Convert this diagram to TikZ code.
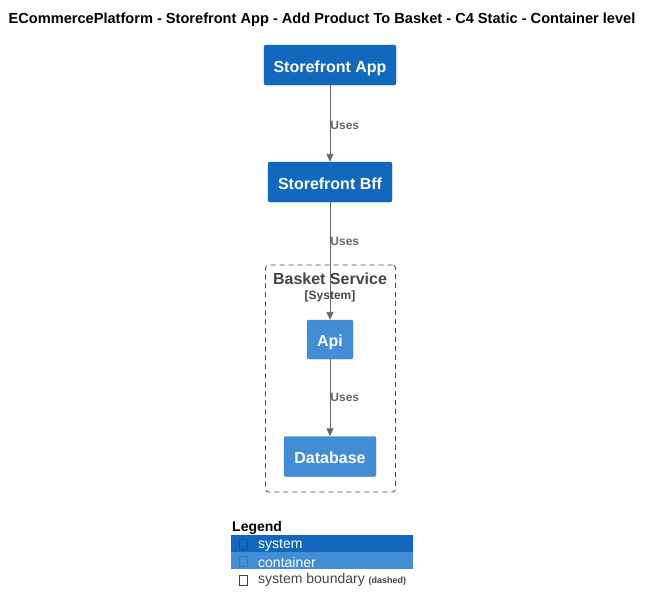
\documentclass[tikz,border=0pt]{standalone}
\usepackage{fontspec}
\setmainfont{Liberation Sans}
\usetikzlibrary{arrows.meta}

\definecolor{sysblue}{HTML}{1168BD}
\definecolor{contblue}{HTML}{438DD5}
\definecolor{relgray}{HTML}{666666}
\definecolor{bndgray}{HTML}{444444}

\begin{document}
\begin{tikzpicture}[
    x=1pt, y=-1pt,
    system/.style={fill=sysblue, draw=sysblue!85!black, rounded corners=2pt,
      text=white, font=\fontsize{16}{18}\selectfont\bfseries, inner sep=0pt,
      text height=14pt, text depth=0pt},
    container/.style={system, fill=contblue, draw=contblue!85!black},
    rel/.style={draw=relgray, line width=0.9pt,
      -{Triangle[length=8pt,width=7pt]}},
    uses/.style={anchor=west, inner sep=0pt, text=relgray,
      font=\fontsize{12}{14}\selectfont\bfseries},
    bnd/.style={draw=bndgray, dash pattern=on 5pt off 4pt, rounded corners=3pt,
      line width=0.8pt},
    tofu/.style={draw=#1, line width=0.6pt},
    font=\fontsize{14}{16}\selectfont
  ]
  \useasboundingbox (0,0) rectangle (652,613);

  %% title
  \node[font=\fontsize{14.6}{16}\selectfont\bfseries] (title) at (322,20)
    {ECommercePlatform - Storefront App - Add Product To Basket - C4 Static - Container level};

  %% system boundary
  \node[bnd, minimum width=130pt, minimum height=227pt] (basket) at (330.5,378.5) {};
  \node[text=bndgray, font=\fontsize{16}{18}\selectfont\bfseries] (basketname) at (330,279) {Basket Service};
  \node[text=bndgray, font=\fontsize{12}{14}\selectfont\bfseries] (baskettype) at (330,296.5) {[System]};

  %% elements
  \node[system, minimum width=132pt, minimum height=40pt] (app) at (330,65) {Storefront App};
  \node[system, minimum width=124pt, minimum height=40pt] (bff) at (330,182) {Storefront Bff};
  \node[container, minimum width=46pt, minimum height=39pt] (api) at (330,339.5) {Api};
  \node[container, minimum width=92pt, minimum height=40pt] (db) at (330,456.5) {Database};

  %% relations
  \draw[rel] (app) -- node[uses, pos=0.52] {Uses} (bff);
  \draw[rel] (bff) -- node[uses, pos=0.33] {Uses} (api);
  \draw[rel] (api) -- node[uses] {Uses} (db);

  %% legend
  \node[anchor=west, inner sep=0pt, font=\fontsize{14}{16}\selectfont\bfseries] (legend) at (232,527.5) {Legend};
  \fill[sysblue] (231,535) rectangle (413,552);
  \fill[contblue] (231,552) rectangle (413,569);
  \draw[tofu=sysblue!80!black] (239,539) rectangle (247,549);
  \draw[tofu=contblue!85!black] (239,556) rectangle (247,566);
  \draw[tofu=bndgray] (239,575) rectangle (247,585);
  \node[anchor=west, inner sep=0pt, text=white] (lsys) at (258,545) {system};
  \node[anchor=west, inner sep=0pt, text=white] (lcont) at (258,562) {container};
  \node[anchor=west, inner sep=0pt, text=bndgray] (lbnd) at (258,580)
    {system boundary {\fontsize{9}{11}\selectfont\bfseries(dashed)}};

\end{tikzpicture}
\end{document}
